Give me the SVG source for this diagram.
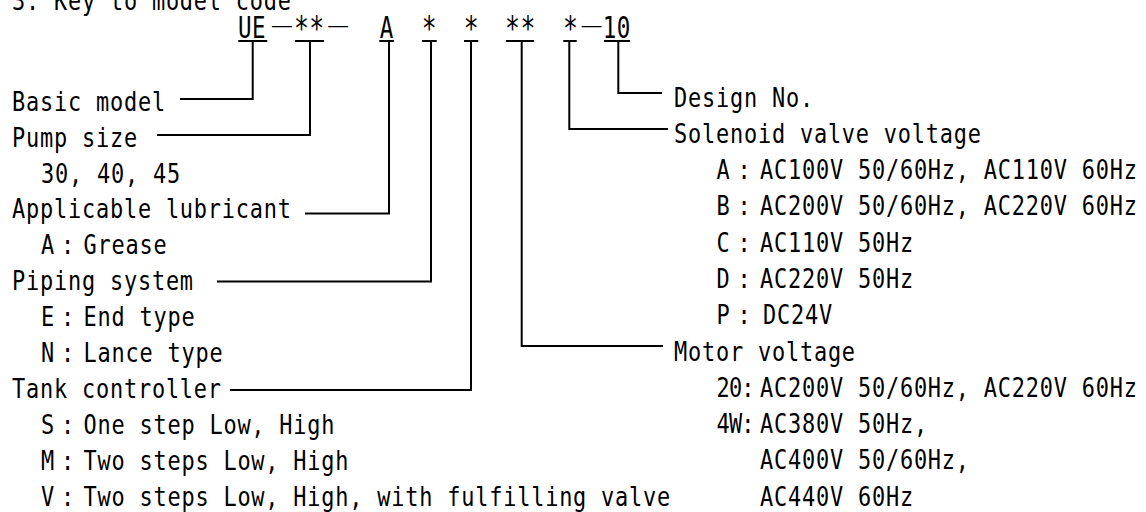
<svg xmlns="http://www.w3.org/2000/svg" width="1146" height="512" viewBox="0 0 1146 512">
<style>
.t{font-family:"DejaVu Sans Mono","Liberation Mono",monospace;font-size:27.4px;letter-spacing:1px;fill:#000}
.c{font-family:"DejaVu Sans Mono","Liberation Mono",monospace;font-size:30px;letter-spacing:0.6px;fill:#000}
.d{font-family:"Noto Sans CJK JP","Noto Sans CJK SC",sans-serif;font-size:31px}
.a{font-size:33px}
.n{letter-spacing:-1px}
.ln{fill:none;stroke:#000;stroke-width:2;stroke-linejoin:miter;stroke-linecap:butt}
</style>
<rect width="1146" height="512" fill="#fff"/>
<g id="title"><text class="t" transform="translate(12,9.5) scale(.8,1)">3. Key to model code</text></g>
<g id="model-code">
<text class="c" transform="translate(0,38) scale(.75,1)"><tspan x="317.33" y="0">UE</tspan><tspan class="d" x="360.5" y="0">―</tspan><tspan class="a" x="392" y="1.5">**</tspan><tspan class="d" x="435.3" y="0">―</tspan> <tspan x="506.27" y="0">A</tspan> <tspan class="a" x="562.5" y="1.5">*</tspan> <tspan class="a" x="618.5" y="1.5">*</tspan> <tspan class="a" x="673.5" y="1.5">**</tspan> <tspan class="a" x="750.7" y="1.5">*</tspan><tspan class="d" x="773.3" y="0">―</tspan><tspan x="803.6" y="0">10</tspan></text>
</g>
<g id="connectors" class="ln">
<path d="M238.3 41H267.3M295 41H324M379.3 41H394M422 41H436.7M464 41H478.3M506 41H534M563.3 41H576.7M604 41H630"/>
<path d="M180 99H252.7V41"/>
<path d="M157 135H310V41"/>
<path d="M305 213.5H389V41"/>
<path d="M217 281.5H431V41"/>
<path d="M230 390H471V41"/>
<path d="M521.7 41V346H663"/>
<path d="M569.3 41V129H668"/>
<path d="M618.3 41V93H662"/>
</g>
<g id="basic-model"><text class="t" transform="translate(12,110.7) scale(.8,1)">Basic model</text></g>
<g id="pump-size">
<text class="t" transform="translate(12,146.6) scale(.8,1)">Pump size</text>
<text class="t" transform="translate(41,182.5) scale(.8,1)">30, 40, 45</text>
</g>
<g id="applicable-lubricant">
<text class="t" transform="translate(12,218.4) scale(.8,1)">Applicable lubricant</text>
<text class="t" transform="translate(41,254.3) scale(.8,1)">A <tspan x="24.875">:</tspan> <tspan x="53.13">Grease</tspan></text>
</g>
<g id="piping-system">
<text class="t" transform="translate(12,290.2) scale(.8,1)">Piping system</text>
<text class="t" transform="translate(41,326.1) scale(.8,1)">E <tspan x="24.875">:</tspan> <tspan x="53.13">End type</tspan></text>
<text class="t" transform="translate(41,362) scale(.8,1)">N <tspan x="24.875">:</tspan> <tspan x="53.13">Lance type</tspan></text>
</g>
<g id="tank-controller">
<text class="t" transform="translate(12,397.9) scale(.8,1)">Tank controller</text>
<text class="t" transform="translate(41,433.8) scale(.8,1)">S <tspan x="24.875">:</tspan> <tspan x="53.13">One step Low, High</tspan></text>
<text class="t" transform="translate(41,469.7) scale(.8,1)">M <tspan x="24.875">:</tspan> <tspan x="53.13">Two steps Low, High</tspan></text>
<text class="t" transform="translate(41,505.6) scale(.8,1)">V <tspan x="24.875">:</tspan> <tspan x="53.13">Two steps Low, High, with fulfilling valve</tspan></text>
</g>
<g id="design-no"><text class="t" transform="translate(674,106.5) scale(.8,1)">Design No.</text></g>
<g id="solenoid-valve-voltage">
<text class="t" transform="translate(674,142.8) scale(.8,1)">Solenoid valve voltage</text>
<text class="t" transform="translate(716.5,179.1) scale(.8,1)">A <tspan x="26.13">:</tspan> <tspan x="54.38">AC100V 50/60Hz, AC110V 60Hz</tspan></text>
<text class="t" transform="translate(716.5,215.3) scale(.8,1)">B <tspan x="26.13">:</tspan> <tspan x="54.38">AC200V 50/60Hz, AC220V 60Hz</tspan></text>
<text class="t" transform="translate(716.5,251.6) scale(.8,1)">C <tspan x="26.13">:</tspan> <tspan x="54.38">AC110V 50Hz</tspan></text>
<text class="t" transform="translate(716.5,287.9) scale(.8,1)">D <tspan x="26.13">:</tspan> <tspan x="54.38">AC220V 50Hz</tspan></text>
<text class="t" transform="translate(716.5,324.2) scale(.8,1)">P <tspan x="26.13">:</tspan> <tspan x="58.13">DC24V</tspan></text>
</g>
<g id="motor-voltage">
<text class="t" transform="translate(674,360.5) scale(.8,1)">Motor voltage</text>
<text class="t" transform="translate(716.5,396.7) scale(.8,1)"><tspan class="n">20</tspan> <tspan x="31.1">:</tspan> <tspan x="54.38">AC200V 50/60Hz, AC220V 60Hz</tspan></text>
<text class="t" transform="translate(716.5,433) scale(.8,1)"><tspan class="n">4W</tspan> <tspan x="31.1">:</tspan> <tspan x="54.38">AC380V 50Hz,</tspan></text>
<text class="t" transform="translate(760,469.3) scale(.8,1)">AC400V 50/60Hz,</text>
<text class="t" transform="translate(760,505.6) scale(.8,1)">AC440V 60Hz</text>
</g>
</svg>
